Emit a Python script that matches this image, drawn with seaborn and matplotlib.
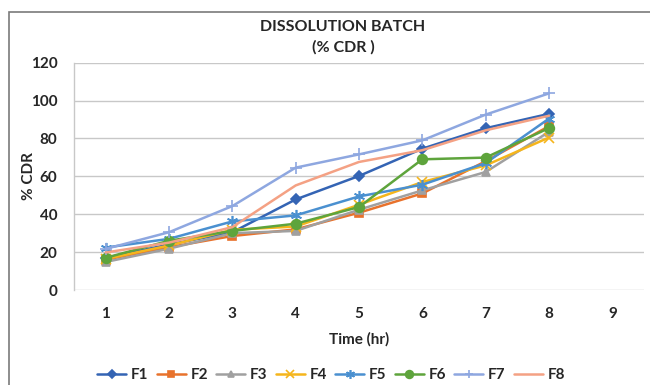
import matplotlib
matplotlib.use("Agg")
import matplotlib.pyplot as plt
import seaborn as sns
import pandas as pd
from matplotlib.patches import Rectangle

time_hr = [1, 2, 3, 4, 5, 6, 7, 8]
F1 = [17.0, 24.0, 30.5, 47.8, 60.2, 74.6, 85.4, 93.0]
F2 = [16.0, 22.6, 28.5, 32.0, 40.8, 51.0, 68.0, 86.5]
F3 = [14.8, 21.8, 30.0, 31.2, 42.4, 52.6, 62.3, 83.5]
F4 = [16.4, 23.5, 31.8, 33.5, 45.0, 57.0, 65.8, 80.5]
F5 = [22.4, 27.0, 36.2, 39.4, 49.4, 55.6, 67.0, 90.5]
F6 = [17.0, 26.0, 31.2, 35.0, 43.8, 69.0, 69.9, 85.5]
F7 = [21.7, 30.5, 44.3, 64.6, 71.6, 79.0, 92.6, 103.8]
F8 = [19.8, 25.0, 33.2, 55.2, 67.6, 73.8, 84.3, 92.0]
series_names = ["F1", "F2", "F3", "F4", "F5", "F6", "F7", "F8"]
series_values = [F1, F2, F3, F4, F5, F6, F7, F8]
y_ticks = [0, 20, 40, 60, 80, 100, 120]
x_ticks = [1, 2, 3, 4, 5, 6, 7, 8, 9]

colors = {"F1": "#3464B4", "F2": "#E8722C", "F3": "#A0A0A0", "F4": "#F5B51C",
          "F5": "#4A90D0", "F6": "#5EA43C", "F7": "#8EA7E0", "F8": "#F4A184"}
markers = {"F1": "D", "F2": "s", "F3": "^", "F4": "x", "F5": (6, 2, 0),
           "F6": "o", "F7": "+", "F8": ""}
msizes = {"F1": 5, "F2": 6, "F3": 6, "F4": 7, "F5": 8, "F6": 7, "F7": 8, "F8": 0}

rows = []
for name, vals in zip(series_names, series_values):
    for t, v in zip(time_hr, vals):
        rows.append({"Time": t, "CDR": v, "Series": name})
df = pd.DataFrame(rows)

sns.set_theme(style="white")
plt.rcParams["font.family"] = ["Lato", "DejaVu Sans"]

fig = plt.figure(figsize=(6.5, 3.85), dpi=100)
ax = fig.add_axes([74 / 650, 1 - 290 / 385, 570 / 650, (290 - 62.7) / 385])

for name in series_names:
    sub = df[df["Series"] == name]
    sns.lineplot(data=sub, x="Time", y="CDR", ax=ax, color=colors[name],
                 marker=markers[name] if markers[name] else None,
                 markersize=msizes[name], markeredgecolor=colors[name],
                 markeredgewidth=1.2, linewidth=1.8, label=name)

ax.set_xlim(0.5, 9.5)
ax.set_ylim(0, 120)
ax.set_yticks(y_ticks)
ax.set_xticks(x_ticks)
ax.set_yticklabels([str(v) for v in y_ticks], fontweight="bold", fontsize=11)
ax.set_xticklabels([str(v) for v in x_ticks], fontweight="bold", fontsize=11)
ax.tick_params(axis="y", length=0, pad=12)
ax.tick_params(axis="x", length=0, pad=12)
ax.yaxis.grid(True, color="#C8C8C8", linewidth=1)
ax.xaxis.grid(False)
for s in ["top", "right", "bottom"]:
    ax.spines[s].set_visible(False)
ax.spines["left"].set_color("#C8C8C8")
ax.spines["left"].set_linewidth(1)
ax.set_axisbelow(True)

ax.set_xlabel("Time (hr)", fontweight="bold", fontsize=11, labelpad=8)
ax.set_ylabel("% CDR", fontweight="bold", fontsize=11)
ax.yaxis.set_label_coords((36 - 74) / 570, 0.5)

fig.text(343 / 650, 1 - 27 / 385, "DISSOLUTION BATCH", ha="center", va="center",
         fontweight="bold", fontsize=11.5)
fig.text(343 / 650, 1 - 47 / 385, "(% CDR )", ha="center", va="center",
         fontweight="bold", fontsize=11.5)

ax.get_legend().remove()
handles, labels = ax.get_legend_handles_labels()
leg = fig.legend(handles, labels, loc="center", ncol=8,
                 bbox_to_anchor=(331 / 650, 1 - 375 / 385), frameon=False,
                 handlelength=1.9, columnspacing=0.55, handletextpad=0.3,
                 borderaxespad=0, borderpad=0, markerscale=0.8,
                 prop={"weight": "bold", "size": 11})

fig.patches.append(Rectangle((9 / 650, -0.1), 1.2, 1 - 12 / 385 + 0.1,
                             transform=fig.transFigure, fill=False,
                             edgecolor="#7A7A7A", linewidth=1.2))

fig.savefig("out.png", dpi=100)
